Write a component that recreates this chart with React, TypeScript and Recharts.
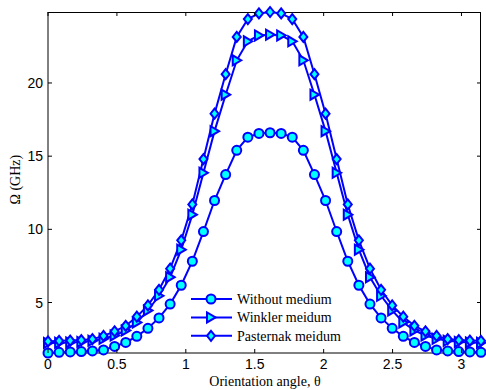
import { LineChart, Line, XAxis, YAxis, Legend } from 'recharts';

// orientation angle, 40 samples from 0 to pi
const THETA = [
  0, 0.0806, 0.1611, 0.2417, 0.3222, 0.4028, 0.4833, 0.5639, 0.6444, 0.725,
  0.8055, 0.8861, 0.9666, 1.0472, 1.1278, 1.2083, 1.2889, 1.3694, 1.45, 1.5305,
  1.6111, 1.6916, 1.7722, 1.8527, 1.9333, 2.0138, 2.0944, 2.175, 2.2555, 2.3361,
  2.4166, 2.4972, 2.5777, 2.6583, 2.7388, 2.8194, 2.8999, 2.9805, 3.061, 3.1416,
];

const WITHOUT = [
  1.55, 1.6, 1.62, 1.65, 1.69, 1.76, 2.0, 2.27, 2.69, 3.24,
  3.95, 4.89, 6.18, 7.82, 9.85, 11.97, 13.74, 15.4, 16.3, 16.55,
  16.6, 16.55, 16.3, 15.4, 13.74, 11.97, 9.85, 7.82, 6.18, 4.89,
  3.95, 3.24, 2.69, 2.27, 2.0, 1.76, 1.69, 1.65, 1.62, 1.6,
];

const WINKLER = [
  2.24, 2.25, 2.27, 2.31, 2.38, 2.52, 2.75, 3.09, 3.64, 4.46,
  5.46, 6.73, 8.61, 11.0, 13.86, 16.71, 19.2, 21.55, 22.85, 23.25,
  23.3, 23.25, 22.85, 21.55, 19.2, 16.71, 13.86, 11.0, 8.61, 6.73,
  5.46, 4.46, 3.64, 3.09, 2.75, 2.52, 2.38, 2.31, 2.27, 2.25,
];

const PASTERNAK = [
  2.34, 2.38, 2.4, 2.43, 2.5, 2.72, 3.03, 3.41, 4.03, 4.8,
  5.87, 7.31, 9.25, 11.7, 14.8, 17.9, 20.6, 23.15, 24.37, 24.75,
  24.85, 24.75, 24.37, 23.15, 20.6, 17.9, 14.8, 11.7, 9.25, 7.31,
  5.87, 4.8, 4.03, 3.41, 3.03, 2.72, 2.5, 2.43, 2.4, 2.38,
];

const X_TICKS = [0, 0.5, 1, 1.5, 2, 2.5, 3];
const Y_TICKS = [5, 10, 15, 20];
const LABELS = ['Without medium', 'Winkler meidum', 'Pasternak meidum'];

const X_MAX = 3.1416;
const Y_MIN = 1.55;
const Y_MAX = 24.85;

const data = THETA.map((t, i) => ({
  t,
  without: WITHOUT[i],
  winkler: WINKLER[i],
  pasternak: PASTERNAK[i],
}));

// chart layout
const W = 486;
const H = 390;
const MARGIN = { top: 12, right: 5, left: 0, bottom: 0 };
const Y_AXIS_W = 48;
const X_AXIS_H = 37;
const PLOT_TOP = MARGIN.top;
const PLOT_LEFT = MARGIN.left + Y_AXIS_W;
const PLOT_RIGHT = W - MARGIN.right;
const PLOT_BOTTOM = H - MARGIN.bottom - X_AXIS_H;

const BLUE = '#0000ff';
const CYAN = '#00ffff';
const SANS = '"Liberation Sans", Arial, sans-serif';
const SERIF = '"Liberation Serif", "Times New Roman", serif';

function circleMark(cx: number, cy: number, key?: any) {
  return <circle key={key} cx={cx} cy={cy} r={4.5} fill={CYAN} stroke={BLUE} strokeWidth={2} />;
}
function triMark(cx: number, cy: number, key?: any) {
  return (
    <polygon key={key} points={`${cx + 4.5},${cy} ${cx - 4},${cy - 5} ${cx - 4},${cy + 5}`}
      fill={CYAN} stroke={BLUE} strokeWidth={2} strokeLinejoin="miter" />
  );
}
function diaMark(cx: number, cy: number, key?: any) {
  return (
    <polygon key={key} points={`${cx},${cy - 5} ${cx + 4},${cy} ${cx},${cy + 5} ${cx - 4},${cy}`}
      fill={CYAN} stroke={BLUE} strokeWidth={2} />
  );
}

const MARKS = [circleMark, triMark, diaMark];

// bottom tick + matching inward tick on the top edge (box on)
function BottomTick({ x, y, payload }: any) {
  return (
    <g>
      <line x1={x} y1={y} x2={x} y2={y - 4} stroke="#000" />
      <line x1={x} y1={PLOT_TOP} x2={x} y2={PLOT_TOP + 4} stroke="#000" />
      <text x={x} y={y + 16} textAnchor="middle" fontSize={14} fontFamily={SANS} fill="#000">
        {payload.value}
      </text>
    </g>
  );
}
// left tick + matching inward tick on the right edge
function LeftTick({ x, y, payload }: any) {
  return (
    <g>
      <line x1={x} y1={y} x2={x + 4} y2={y} stroke="#000" />
      <line x1={PLOT_RIGHT} y1={y} x2={PLOT_RIGHT - 4} y2={y} stroke="#000" />
      <text x={x - 5} y={y + 5} textAnchor="end" fontSize={14} fontFamily={SANS} fill="#000">
        {payload.value}
      </text>
    </g>
  );
}

function LegendBox() {
  return (
    <svg width={170} height={60}>
      {LABELS.map((label, i) => {
        const y = 9 + i * 18.4;
        return (
          <g key={label}>
            <line x1={6} y1={y} x2={47} y2={y} stroke={BLUE} strokeWidth={2} />
            {MARKS[i](26, y)}
            <text x={52} y={y + 5} fontSize={14} fontFamily={SERIF} fill="#000">{label}</text>
          </g>
        );
      })}
    </svg>
  );
}

export default function App() {
  return (
    <div style={{ position: 'absolute', left: 0, top: 0, width: W, height: H, background: '#fff' }}>
      {/* top / right edges of the axes box */}
      <div style={{ position: 'absolute', left: PLOT_LEFT, top: PLOT_TOP, width: PLOT_RIGHT - PLOT_LEFT,
        height: PLOT_BOTTOM - PLOT_TOP, borderTop: '1px solid #000', borderRight: '1px solid #000',
        boxSizing: 'border-box' }} />
      <LineChart width={W} height={H} data={data} margin={MARGIN}>
        <XAxis dataKey="t" type="number" domain={[0, X_MAX]} ticks={X_TICKS}
          height={X_AXIS_H} tickSize={0} tickMargin={0} tick={<BottomTick />} axisLine={{ stroke: '#000' }}
          tickLine={false} />
        <YAxis type="number" domain={[Y_MIN, Y_MAX]} ticks={Y_TICKS} width={Y_AXIS_W}
          tickSize={0} tickMargin={0} tick={<LeftTick />} axisLine={{ stroke: '#000' }} tickLine={false}
          label={{ value: 'Ω (GHz)', angle: -90, position: 'insideLeft', offset: 15, dy: 22,
            style: { fontFamily: SERIF, fontSize: 14, fill: '#000' } }} />
        <Line dataKey="without" stroke={BLUE} strokeWidth={2} isAnimationActive={false}
          dot={(p: any) => circleMark(p.cx, p.cy, p.index)} activeDot={false} />
        <Line dataKey="winkler" stroke={BLUE} strokeWidth={2} isAnimationActive={false}
          dot={(p: any) => triMark(p.cx, p.cy, p.index)} activeDot={false} />
        <Line dataKey="pasternak" stroke={BLUE} strokeWidth={2} isAnimationActive={false}
          dot={(p: any) => diaMark(p.cx, p.cy, p.index)} activeDot={false} />
        <Legend layout="vertical" align="center" verticalAlign="middle" content={() => <LegendBox />}
          wrapperStyle={{ left: 185, top: 290, width: 170, height: 60 }} />
      </LineChart>
      <div style={{ position: 'absolute', left: 0, top: 374, width: 530, textAlign: 'center',
        fontFamily: SERIF, fontSize: 14, lineHeight: '16px', color: '#000' }}>
        Orientation angle, θ
      </div>
    </div>
  );
}
